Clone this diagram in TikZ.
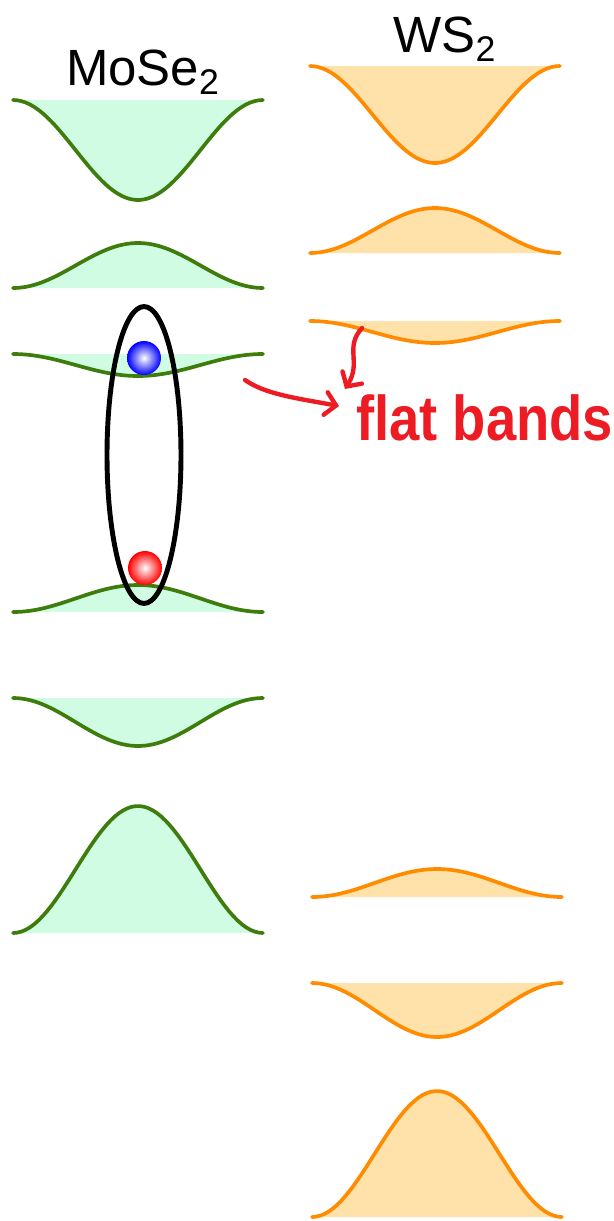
\documentclass[tikz,border=0pt]{standalone}
\usepackage{fontspec}
\setmainfont{Liberation Sans}
\usetikzlibrary{positioning,shapes.geometric,arrows.meta}
\definecolor{moseline}{RGB}{62,125,12}
\definecolor{mosefill}{RGB}{208,252,228}
\definecolor{wsline}{RGB}{255,140,0}
\definecolor{wsfill}{RGB}{255,225,170}
\definecolor{scribble}{RGB}{237,28,36}

\begin{document}
\begin{tikzpicture}[x=0.02cm,y=-0.02cm,
    bandline/.style={line width=2.1pt,line cap=round},
    title/.style={font=\fontsize{29}{30}\selectfont,inner sep=0pt},
    carrier/.style={circle,minimum size=0.68cm,inner sep=0pt,shading=radial,inner color=white},
    scrawl/.style={draw=scribble,line width=2.5pt,line cap=round,line join=round,
      -{Straight Barb[length=6pt,width=13pt,line cap=round]}}]
    \useasboundingbox (0,0) rectangle (614,1221);
    % MoSe2 bands: edge y / offset of the extremum
    \foreach \ey/\dy in {100/100,288/-45,354/22,612/-27,698/48,933/-127}{
      \fill[mosefill] plot[domain=-1:1,samples=60] ({138+125*\x},{\ey+\dy*0.5*(1+cos(180*\x))}) -- cycle;
      \draw[bandline,moseline] plot[domain=-1:1,samples=60] ({138+125*\x},{\ey+\dy*0.5*(1+cos(180*\x))});
    }
    % WS2 bands
    \foreach \cx/\ey/\dy in {435/66/97,435/253/-45,435/321/22,437/897/-28,437/983/54,437/1217/-126}{
      \fill[wsfill] plot[domain=-1:1,samples=60] ({\cx+125*\x},{\ey+\dy*0.5*(1+cos(180*\x))}) -- cycle;
      \draw[bandline,wsline] plot[domain=-1:1,samples=60] ({\cx+125*\x},{\ey+\dy*0.5*(1+cos(180*\x))});
    }
    \node[title,anchor=base] (mose) at (143,85) {MoSe\textsubscript{2}};
    \node[title,anchor=base] (ws) at (445,52) {WS\textsubscript{2}};
    % exciton
    \node[carrier,outer color=blue] (electron) at (144,358) {};
    \node[carrier,outer color=red] (hole) at (145,568) {};
    \node[ellipse,draw,line width=2.8pt,minimum width=1.48cm,minimum height=5.94cm,inner sep=0pt] (exciton) at (144,455) {};
    % handwritten note
    \node[anchor=base west,text=scribble,font=\bfseries\fontsize{36}{36}\selectfont,inner sep=0pt,
      xscale=0.86,transform shape] (note) at (356,440) {flat bands};
    \coordinate (from) at (245,380);
    \coordinate (tip) at (339,406);
    \coordinate (onband) at (362,328);
    \coordinate (tip2) at (345,389);
    \draw[scrawl] (from) .. controls (265,394) and (295,398) .. (tip);
    \draw[scrawl] (onband) .. controls (344,348) and (362,362) .. (tip2);
\end{tikzpicture}
\end{document}
